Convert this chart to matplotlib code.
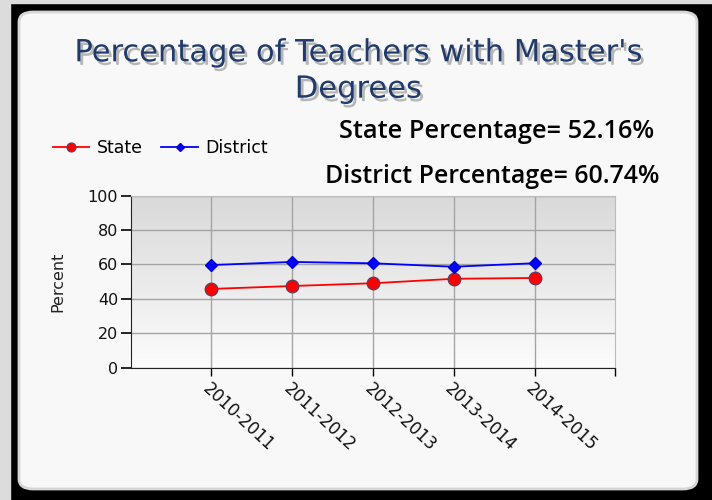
import numpy as np
import matplotlib.pyplot as plt
import matplotlib.patheffects as pe
from matplotlib.patches import FancyBboxPatch, Rectangle
from matplotlib.colors import LinearSegmentedColormap

years = ['2010-2011', '2011-2012', '2012-2013', '2013-2014', '2014-2015']
state = [45.8, 47.5, 49.1, 51.7, 52.16]
district = [59.7, 61.5, 60.7, 58.7, 60.74]
state_pct = '52.16%'
district_pct = '60.74%'

fig = plt.figure(figsize=(7.12, 5.0), dpi=100)
fig.patch.set_facecolor('black')

# outer light strip and rounded white panel
fig.patches.append(Rectangle((0, 0), 10/712, 1, transform=fig.transFigure, color='#dcdcdc', zorder=0))
fig.patches.append(Rectangle((0, 497/500), 1, 3/500, transform=fig.transFigure, color='#dcdcdc', zorder=0))
panel = FancyBboxPatch((19/712, 11/500), 678/712, 477/500,
                       boxstyle='round,pad=0,rounding_size=0.02',
                       transform=fig.transFigure, facecolor='#f8f8f8',
                       edgecolor='#d6d6d6', linewidth=2, zorder=1)
fig.patches.append(panel)

ax = fig.add_axes([130.7/712, 1 - 367.7/500, 484.6/712, 172/500])
ax.set_zorder(3)

# gradient background in plot area
grad = np.linspace(0, 1, 256).reshape(-1, 1)
ax.imshow(grad, extent=(-1, 5, 0, 100), aspect='auto', origin='upper',
          cmap=LinearSegmentedColormap.from_list('g', ['#d9d9d9', '#fcfcfc']), zorder=0)

x = np.arange(len(years))
ax.plot(x, state, color='#ff0000', lw=1.3, marker='o', markersize=9,
        markerfacecolor='#ff0000', markeredgecolor='#6b3a5a', markeredgewidth=1, label='State', zorder=4)
ax.plot(x, district, color='#0000ff', lw=1.3, marker='D', markersize=6,
        markerfacecolor='#0000ff', markeredgecolor='#0000cc', label='District', zorder=4)

ax.set_xlim(-1, 5)
ax.set_ylim(0, 100)
ax.set_yticks(range(0, 101, 20))
ax.set_xticks(x)
ax.set_xticks([5], minor=True)
ax.set_xticklabels(years, rotation=-43, ha='left', va='top', rotation_mode='anchor',
                   fontsize=12, color='#111111')
ax.tick_params(axis='y', labelsize=11.5, labelcolor='#111111', length=7, width=1.2, pad=2)
ax.tick_params(axis='x', which='both', length=6, width=1, pad=3)
ax.grid(True, color='#a4a4a4', lw=1)
ax.set_axisbelow(True)
for s in ['top', 'right']:
    ax.spines[s].set_color('#bbbbbb')
ax.spines['left'].set_color('#222222')
ax.spines['bottom'].set_color('#222222')
ax.set_ylabel('Percent', fontsize=11.5, color='#222222', labelpad=16)

ax.legend(loc='lower left', bbox_to_anchor=(-0.193, 1.135), ncol=2, frameon=False,
          handlelength=2.1, columnspacing=1.05, handletextpad=0.45,
          markerscale=0.7, prop={'size': 12.5})

title_fx = [pe.withSimplePatchShadow(offset=(2, -2.5), shadow_rgbFace='#808080', alpha=0.55)]
fig.text(0.503, 0.858, "Percentage of Teachers with Master's\nDegrees", ha='center', va='center',
         fontsize=22, color='#1f3a6b', linespacing=1.32, zorder=5, path_effects=title_fx,
         family='DejaVu Sans')

fig.text(0.697, 0.737, 'State Percentage= ' + state_pct, ha='center', va='center',
         fontsize=18.3, color='black', family='Open Sans', weight='semibold', zorder=5)
fig.text(0.691, 0.647, 'District Percentage= ' + district_pct, ha='center', va='center',
         fontsize=17.9, color='black', family='Open Sans', weight='semibold', zorder=5)

fig.savefig('out.png', dpi=100, facecolor=fig.get_facecolor())
